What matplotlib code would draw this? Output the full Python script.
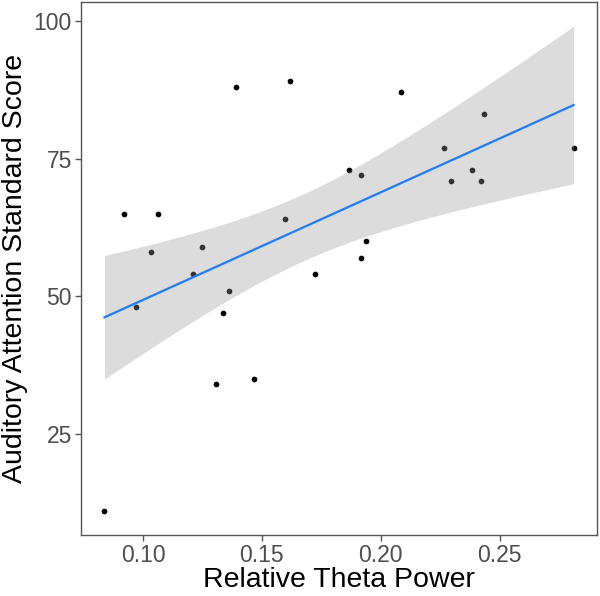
import numpy as np
import matplotlib
matplotlib.use("Agg")
import matplotlib.pyplot as plt

plt.rcParams['font.family'] = ['Liberation Sans', 'DejaVu Sans']

theta_power = [0.0922, 0.1062, 0.1393, 0.1620, 0.1034, 0.1249, 0.1595,
               0.2084, 0.2433, 0.2266, 0.2810, 0.1868, 0.1915, 0.2293,
               0.2382, 0.2420, 0.1938, 0.1915,
               0.1211, 0.1724, 0.0969, 0.1360, 0.1337, 0.1309, 0.1466, 0.0838]
attention_score = [65, 65, 88, 89, 58, 59, 64,
                   87, 83, 77, 77, 73, 72, 71,
                   73, 71, 60, 57,
                   54, 54, 48, 51, 47, 34, 35, 11]
x_ticks = [0.10, 0.15, 0.20, 0.25]
x_tick_labels = ["0.10", "0.15", "0.20", "0.25"]
y_ticks = [25, 50, 75, 100]
y_tick_labels = ["25", "50", "75", "100"]

x = np.array(theta_power)
y = np.array(attention_score)
n = len(x)

# linear fit with 95% confidence band (like geom_smooth(method = "lm"))
slope, intercept = np.polyfit(x, y, 1)
resid = y - (slope * x + intercept)
s = np.sqrt(np.sum(resid ** 2) / (n - 2))
t_crit = 2.0639  # t(0.975, df = 24)
xs = np.linspace(x.min(), x.max(), 80)
ys = slope * xs + intercept
se = s * np.sqrt(1 / n + (xs - x.mean()) ** 2 / np.sum((x - x.mean()) ** 2))
lo = ys - t_crit * se
hi = ys + t_crit * se

fig = plt.figure(figsize=(6.0, 5.96), dpi=100)
ax = fig.add_axes([0.135, 0.102, 0.86, 0.8946])

ax.scatter(x, y, s=17, color="black", zorder=2, linewidths=0)
ax.fill_between(xs, lo, hi, color="#999999", alpha=0.34, linewidth=0, zorder=3)
ax.plot(xs, ys, color="#1F7BFF", linewidth=1.6, zorder=4)

xr = x.max() - x.min()
ax.set_xlim(x.min() - 0.05 * xr, x.max() + 0.05 * xr)
ymin = min(y.min(), lo.min())
ymax = max(y.max(), hi.max())
yr = ymax - ymin
ax.set_ylim(ymin - 0.05 * yr, ymax + 0.05 * yr)

ax.set_xticks(x_ticks)
ax.set_xticklabels(x_tick_labels)
ax.set_yticks(y_ticks)
ax.set_yticklabels(y_tick_labels)

for sp in ax.spines.values():
    sp.set_color("#555555")
    sp.set_linewidth(1.0)
ax.tick_params(axis="both", colors="#555555", length=4, width=1.0,
               labelsize=16.5, labelcolor="#4D4D4D", pad=2.5)

ax.set_xlabel("Relative Theta Power", fontsize=20.5, color="black", labelpad=0)
ax.set_ylabel("Auditory Attention Standard Score", fontsize=20.5, color="black", labelpad=4)

fig.savefig("out.png", dpi=100)
